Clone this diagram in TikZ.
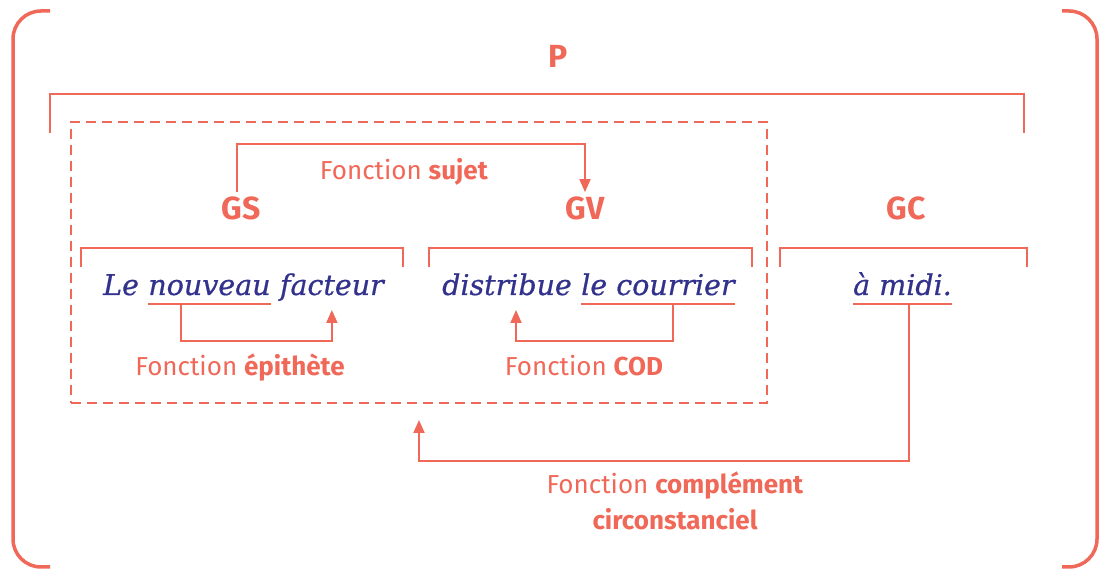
\documentclass[tikz,border=0pt]{standalone}
\usepackage{fontspec}
\setmainfont{DejaVu Serif}
\setsansfont{Fira Sans}
\newfontfamily\motfont[FakeBold=0.7]{DejaVu Serif}
\usepackage{tikz}
\usetikzlibrary{arrows.meta,positioning,calc}

\definecolor{corail}{RGB}{240,104,88}
\definecolor{encre}{RGB}{50,50,140}

\begin{document}
\begin{tikzpicture}[x=1pt,y=1pt,>={Triangle[length=13pt,width=11pt]},
        trait/.style={draw=corail,line width=2pt},
        fleche/.style={trait,->},
        groupe/.style={text=corail,font=\sffamily\bfseries\fontsize{32}{36}\selectfont,inner sep=5pt,anchor=base},
        fonction/.style={text=corail,font=\sffamily\fontsize{26}{36}\selectfont,align=center},
        mot/.style={text=encre,font=\motfont\itshape\fontsize{28.5}{34}\selectfont,inner sep=0pt,anchor=base west}]
        \useasboundingbox (0,0) rectangle (1099,569);

        \draw[corail,line width=3.5pt,rounded corners=28pt] (50,558) -- (13,558) -- (13,2) -- (50,2);
        \draw[corail,line width=3.5pt,rounded corners=28pt] (1062,558) -- (1097,558) -- (1097,2) -- (1062,2);

        \node[groupe] (p) at (558,501) {P};
        \draw[trait] (50,436) |- (1024,475) -- (1024,436);

        \node[draw=corail,line width=2pt,dash pattern=on 10pt off 6pt,minimum width=696pt,minimum height=281pt,inner sep=0pt] (cadre) at (419,306.5) {};

        \node[groupe] (gs) at (241,349) {GS};
        \node[groupe] (gv) at (585,349) {GV};
        \node[groupe] (gc) at (906,349) {GC};

        \draw[fleche] ([xshift=-4pt]gs.north) -- ++(0,48) -| (gv.north);
        \node[fonction,anchor=base] (fsujet) at (404,389) {Fonction \textbf{sujet}};

        \foreach \a/\b in {81/403,429/752,780/1027}
          \draw[trait] (\a,302) |- (\b,321) -- (\b,302);

        \node[mot] (le) at (103,274) {Le};
        \node[mot] (nouveau) at ([xshift=9pt]le.base east) {nouveau};
        \node[mot] (facteur) at ([xshift=9pt]nouveau.base east) {facteur};
        \draw[trait] ([yshift=-9pt]nouveau.base west) -- ([yshift=-9pt]nouveau.base east);
        \draw[fleche] ($(nouveau.base west)!0.27!(nouveau.base east)+(0,-9)$) -- ++(0,-37) -| ([yshift=-15pt]facteur.base);
        \node[fonction,anchor=base] (fepithete) at (240,193) {Fonction \textbf{épithète}};

        \node[mot] (distribue) at (442,274) {distribue};
        \node[mot] (courrier) at ([xshift=9pt]distribue.base east) {le courrier};
        \draw[trait] ([yshift=-9pt]courrier.base west) -- ([yshift=-9pt]courrier.base east);
        \draw[fleche] ($(courrier.base west)!0.6!(courrier.base east)+(0,-9)$) -- ++(0,-37) -| ([xshift=9pt,yshift=-15pt]distribue.base);
        \node[fonction,anchor=base] (fcod) at (584,193) {Fonction \textbf{COD}};

        \node[mot] (midi) at (853,274) {à midi.};
        \draw[trait] ([yshift=-9pt]midi.base west) -- ([yshift=-9pt]midi.base east);
        \draw[fleche] ($(midi.base west)!0.57!(midi.base east)+(0,-9)$) -- ++(0,-157) -| ([yshift=-16pt]cadre.south);
        \node[fonction] (fcc) at (675,68) {Fonction \textbf{complément}\\\textbf{circonstanciel}};
      \end{tikzpicture}
\end{document}
